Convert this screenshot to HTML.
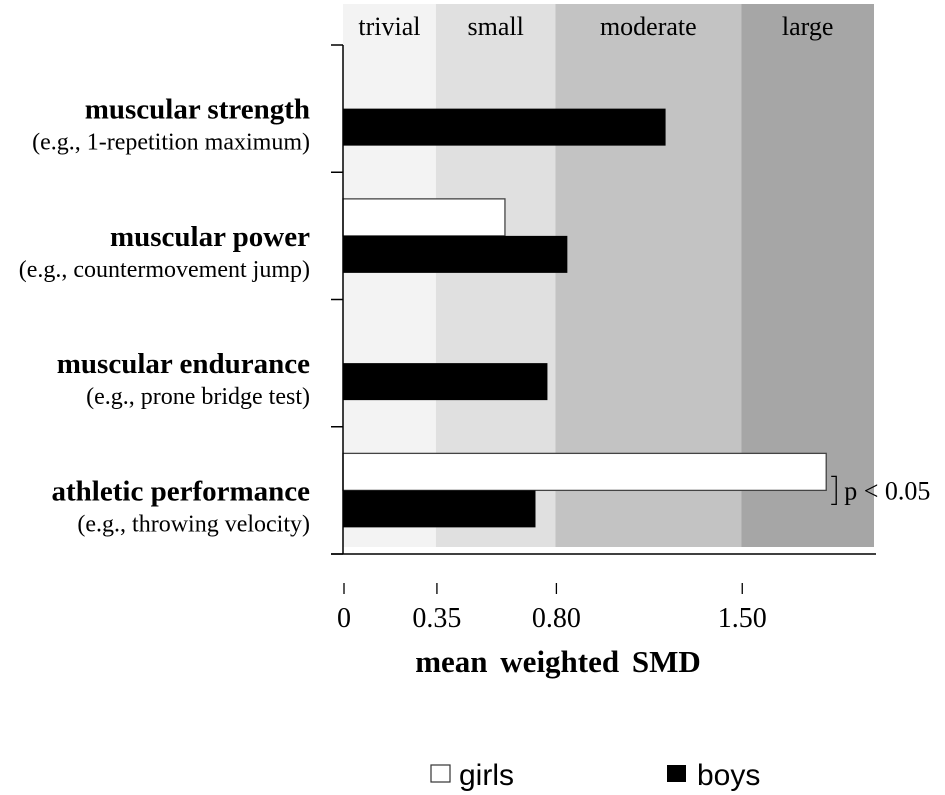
<!DOCTYPE html>
<html><head><meta charset="utf-8"><style>
html,body{margin:0;padding:0;background:#fff;}
svg{display:block;}
.ser{font-family:"Liberation Serif",serif;}
.san{font-family:"Liberation Sans",sans-serif;}
</style></head><body>
<svg id="chart" width="945" height="795" viewBox="0 0 945 795">
<g id="bands"></g><g id="bars"></g><g id="axes"></g><g id="labels"></g>
<g>
<rect x="431" y="765" width="19" height="17" fill="#fff" stroke="#333" stroke-width="1.2"/>
<text x="459" y="785" class="san" font-size="30">girls</text>
<rect x="667" y="765" width="19" height="17" fill="#000"/>
<text x="697" y="785" class="san" font-size="30">boys</text>
</g>
<text x="558" y="672" text-anchor="middle" class="ser" font-size="31" font-weight="bold" word-spacing="5">mean weighted SMD</text>
</svg>
<script>
const categories=["muscular strength","muscular power","muscular endurance","athletic performance"];
const subtitles=["(e.g., 1-repetition maximum)","(e.g., countermovement jump)","(e.g., prone bridge test)","(e.g., throwing velocity)"];
const girls=[null,0.61,null,1.82];
const boys=[1.215,0.845,0.77,0.725];
const bandNames=["trivial","small","moderate","large"];
const bandEdges=[0,0.35,0.80,1.50,2.0];
const tickValues=[0,0.35,0.80,1.50];
const tickLabels=["0","0.35","0.80","1.50"];
const NS="http://www.w3.org/2000/svg";
const X0=343,SC=265.5;
function xs(v){return X0+v*SC;}
const TOP=45,BOT=554,N=categories.length,step=(BOT-TOP)/N;
function mk(tag,attrs,parent,txt){const e=document.createElementNS(NS,tag);for(const k in attrs)e.setAttribute(k,attrs[k]);if(txt!=null)e.textContent=txt;parent.appendChild(e);return e;}
const bandG=document.getElementById('bands'),barG=document.getElementById('bars'),axG=document.getElementById('axes'),lbG=document.getElementById('labels');
const fills=["#f3f3f3","#e0e0e0","#c3c3c3","#a6a6a6"];
for(let i=0;i<bandNames.length;i++){
 const r=mk('rect',{x:xs(bandEdges[i]),y:4,width:xs(bandEdges[i+1])-xs(bandEdges[i]),height:543,fill:fills[i]},bandG);
 
 
 const t=mk('text',{x:(xs(bandEdges[i])+xs(bandEdges[i+1]))/2,y:35,'text-anchor':'middle','font-size':26,class:'ser'},bandG,bandNames[i]);
 
 
}
const bh=37;
for(let i=0;i<N;i++){
 const c=TOP+step*(i+0.5);
 if(girls[i]!=null){
  const r=mk('rect',{x:X0,y:c-bh,width:xs(girls[i])-X0,height:bh,fill:'#fff',stroke:'#444','stroke-width':1.3},barG);
  
  
 }
 const r2=mk('rect',{x:X0,y:c,width:xs(boys[i])-X0,height:bh,fill:'#000'},barG);
 
 
 const t=mk('text',{x:310,y:c+10,'text-anchor':'end','font-size':29,'font-weight':'bold',class:'ser'},lbG,categories[i]);
 
 
 const s=mk('text',{x:310,y:c+41,'text-anchor':'end','font-size':24,class:'ser'},lbG,subtitles[i]);
 
 
}
const ya=mk('line',{x1:X0,y1:TOP,x2:X0,y2:BOT,stroke:'#000','stroke-width':1.5},axG);


for(let i=0;i<=N;i++){
 const y=TOP+step*i;
 const l=mk('line',{x1:331,y1:y,x2:X0,y2:y,stroke:'#000','stroke-width':1.5},axG);
 
 
}
const xa=mk('line',{x1:331,y1:BOT,x2:876,y2:BOT,stroke:'#000','stroke-width':1.5},axG);


for(let i=0;i<tickValues.length;i++){
 const x=xs(tickValues[i])+1;
 const l=mk('line',{x1:x,y1:583,x2:x,y2:594,stroke:'#000','stroke-width':1.3},axG);
 
 
 const t=mk('text',{x:x,y:627,'text-anchor':'middle','font-size':28,class:'ser'},axG,tickLabels[i]);
 
 
}
const pc=TOP+step*3.5;
const br=mk('path',{d:`M${xs(girls[3])+5} ${pc-14} h5 v28 h-5`,fill:'none',stroke:'#000','stroke-width':1.3},lbG);


const pt=mk('text',{x:xs(girls[3])+18,y:pc+9,'font-size':26,class:'ser'},lbG,'p < 0.05');


</script>
</body></html>
